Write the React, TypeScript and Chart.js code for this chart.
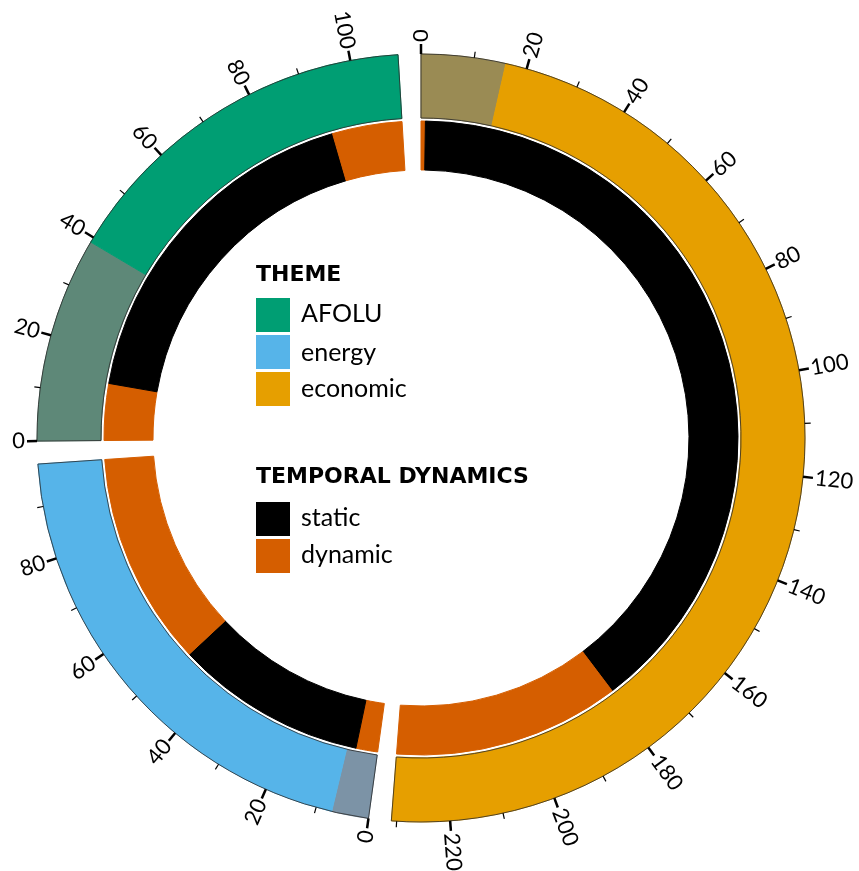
import React, { useEffect, useRef } from 'react';
import { Chart, registerables } from 'chart.js';

Chart.register(...registerables);

// ---- data (counts) ----
const themes = ['economic', 'energy', 'AFOLU'];
const themeColors = ['#E69F00', '#56B4E9', '#009E73'];
const mixedColors = ['#9A8B54', '#7C93A6', '#5E8878'];
const themeTotals = [231, 98, 109];
const mixedCounts = [16, 7, 39];
const dynamicStart = [1, 5, 13];
const staticCounts = [178, 44, 80];
const dynamicEnd = [52, 49, 16];
const gapSize = 4.3;
const tickStep = 10;
const labelStep = 20;

const legendThemeLabels = ['AFOLU', 'energy', 'economic'];
const legendThemeColors = ['#009E73', '#56B4E9', '#E69F00'];
const temporalLabels = ['static', 'dynamic'];
const temporalColors = ['#000000', '#D55E00'];

const TRANSPARENT = 'rgba(0,0,0,0)';

const outerData: number[] = [];
const outerColors: string[] = [];
const innerData: number[] = [];
const innerColors: string[] = [];
const labels: string[] = [];
themes.forEach((t, i) => {
  outerData.push(mixedCounts[i], themeTotals[i] - mixedCounts[i], gapSize);
  outerColors.push(mixedColors[i], themeColors[i], TRANSPARENT);
  innerData.push(dynamicStart[i], staticCounts[i], dynamicEnd[i], gapSize);
  innerColors.push(temporalColors[1], temporalColors[0], temporalColors[1], TRANSPARENT);
  labels.push(t + ' a', t + ' b', t + ' c', 'gap');
});

const TICK_FONT = '22px Lato, "Noto Sans", sans-serif';
const TITLE_FONT = 'bold 22px "DejaVu Sans", sans-serif';
const ITEM_FONT = '25px Lato, "Noto Sans", sans-serif';

// legend layout (canvas coordinates)
const LX = 256;
const SQ = 34;

const decorPlugin = {
  id: 'decor',
  afterDatasetsDraw(chart: any) {
    const ctx: CanvasRenderingContext2D = chart.ctx;
    const outer = chart.getDatasetMeta(0).data as any[];
    ctx.save();
    themes.forEach((_, t) => {
      const a0 = outer[3 * t];
      const a1 = outer[3 * t + 1];
      const x = a0.x, y = a0.y;
      const R = a0.outerRadius, r = a0.innerRadius;
      const start = a0.startAngle, end = a1.endAngle;
      // outline of theme sector
      ctx.beginPath();
      ctx.arc(x, y, R, start, end);
      ctx.arc(x, y, r, end, start, true);
      ctx.closePath();
      ctx.strokeStyle = '#2a2a2a';
      ctx.lineWidth = 0.8;
      ctx.stroke();
      // ticks
      const per = (end - start) / themeTotals[t];
      for (let v = 0; v <= themeTotals[t]; v += tickStep) {
        const a = start + v * per;
        const major = v % labelStep === 0;
        const len = major ? 10 : 6;
        const c = Math.cos(a), s = Math.sin(a);
        ctx.beginPath();
        ctx.moveTo(x + R * c, y + R * s);
        ctx.lineTo(x + (R + len) * c, y + (R + len) * s);
        ctx.lineWidth = major ? 2.5 : 1.2;
        ctx.strokeStyle = '#000';
        ctx.stroke();
        if (major) {
          const lr = R + len + 2;
          ctx.save();
          ctx.translate(x + lr * c, y + lr * s);
          let theta = (a + Math.PI / 2) % (2 * Math.PI);
          if (theta < 0) theta += 2 * Math.PI;
          ctx.font = TICK_FONT;
          ctx.fillStyle = '#000';
          ctx.textBaseline = 'middle';
          if (theta <= Math.PI + 1e-6) {
            ctx.rotate(a);
            ctx.textAlign = 'left';
          } else {
            ctx.rotate(a - Math.PI);
            ctx.textAlign = 'right';
          }
          ctx.fillText(String(v), 0, 0);
          ctx.restore();
        }
      }
    });

    // legend
    ctx.fillStyle = '#000';
    ctx.textAlign = 'left';
    ctx.textBaseline = 'alphabetic';
    ctx.font = TITLE_FONT;
    ctx.fillText('THEME', LX, 280.5);
    const themeTops = [298, 335, 372];
    const themeBase = [321.5, 361, 396.5];
    legendThemeLabels.forEach((lab, i) => {
      ctx.fillStyle = legendThemeColors[i];
      ctx.fillRect(LX, themeTops[i], SQ, SQ);
      ctx.fillStyle = '#000';
      ctx.font = ITEM_FONT;
      ctx.fillText(lab, LX + 45, themeBase[i]);
    });
    ctx.font = TITLE_FONT;
    ctx.fillText('TEMPORAL DYNAMICS', LX, 483);
    const tTops = [502, 539];
    const tBase = [526, 563];
    temporalLabels.forEach((lab, i) => {
      ctx.fillStyle = temporalColors[i];
      ctx.fillRect(LX, tTops[i], SQ, SQ);
      ctx.fillStyle = '#000';
      ctx.font = ITEM_FONT;
      ctx.fillText(lab, LX + 45, tBase[i]);
    });
    ctx.restore();
  },
};

export default function App() {
  const ref = useRef<HTMLCanvasElement | null>(null);
  useEffect(() => {
    document.body.style.margin = '0';
    if (!ref.current) return;
    const borderW = (cols: string[]) => cols.map((c) => (c === TRANSPARENT ? 0 : 1));
    const chart = new Chart(ref.current, {
      type: 'doughnut',
      data: {
        labels,
        datasets: [
          {
            data: outerData,
            backgroundColor: outerColors,
            borderColor: outerColors,
            borderWidth: borderW(outerColors),
            weight: 64,
          } as any,
          {
            data: [1],
            backgroundColor: [TRANSPARENT],
            borderWidth: 0,
            weight: 3,
          } as any,
          {
            data: innerData,
            backgroundColor: innerColors,
            borderColor: innerColors,
            borderWidth: borderW(innerColors),
            weight: 49,
          } as any,
        ],
      },
      options: {
        responsive: false,
        animation: false,
        radius: 384,
        cutout: '69.79%',
        rotation: 0,
        circumference: 360,
        events: [],
        layout: { padding: { left: 0, right: 17, top: 5, bottom: 0 } },
        plugins: { legend: { display: false }, tooltip: { enabled: false } },
      } as any,
      plugins: [decorPlugin],
    });
    return () => chart.destroy();
  }, []);
  return (
    <div style={{ width: 859, height: 871, position: 'relative', overflow: 'hidden' }}>
      <canvas ref={ref} width={859} height={871} style={{ display: 'block', width: 859, height: 871 }} />
    </div>
  );
}
